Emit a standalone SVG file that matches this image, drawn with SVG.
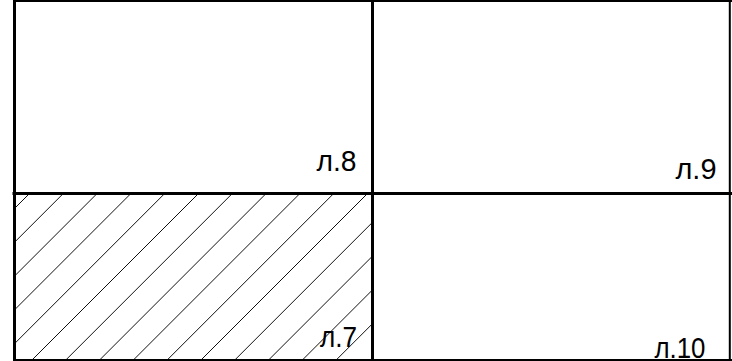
<svg xmlns="http://www.w3.org/2000/svg" width="732" height="361" viewBox="0 0 732 361">
<style>
.b{stroke:#000;fill:none;stroke-linecap:square}
.h{stroke:#111;stroke-width:1;fill:none}
.t{font-family:"Liberation Sans",Arial,sans-serif;font-size:30px;fill:#000;text-anchor:end}
</style>
<defs>
<clipPath id="c7"><rect x="16" y="195" width="355" height="166"/></clipPath>
</defs>
<rect width="732" height="361" fill="#fff"/>
<g id="hatch" clip-path="url(#c7)">
<line class="h" x1="-177" y1="400" x2="33" y2="190"/>
<line class="h" x1="-143.2" y1="400" x2="66.8" y2="190"/>
<line class="h" x1="-109.4" y1="400" x2="100.6" y2="190"/>
<line class="h" x1="-75.6" y1="400" x2="134.4" y2="190"/>
<line class="h" x1="-41.8" y1="400" x2="168.2" y2="190"/>
<line class="h" x1="-8" y1="400" x2="202" y2="190"/>
<line class="h" x1="25.8" y1="400" x2="235.8" y2="190"/>
<line class="h" x1="59.6" y1="400" x2="269.6" y2="190"/>
<line class="h" x1="93.4" y1="400" x2="303.4" y2="190"/>
<line class="h" x1="127.2" y1="400" x2="337.2" y2="190"/>
<line class="h" x1="161" y1="400" x2="371" y2="190"/>
<line class="h" x1="194.8" y1="400" x2="404.8" y2="190"/>
<line class="h" x1="228.6" y1="400" x2="438.6" y2="190"/>
<line class="h" x1="262.4" y1="400" x2="472.4" y2="190"/>
<line class="h" x1="296.2" y1="400" x2="506.2" y2="190"/>
</g>
<g id="connectors">
<line class="b" x1="14.5" y1="0" x2="14.5" y2="361" stroke-width="3"/>
<line class="b" x1="14" y1="1" x2="731" y2="1" stroke-width="2"/>
<line class="b" x1="729.8" y1="0" x2="729.8" y2="361" stroke-width="2"/>
<line class="b" x1="14" y1="360" x2="731" y2="360" stroke-width="2"/>
<line class="b" x1="372.5" y1="0" x2="372.5" y2="361" stroke-width="3"/>
<line class="b" x1="14" y1="193.5" x2="731" y2="193.5" stroke-width="3"/>
</g>
<g id="sheet8"><text class="t" x="356.5" y="171" textLength="40" lengthAdjust="spacingAndGlyphs">л.8</text></g>
<g id="sheet9"><text class="t" x="716.5" y="179" textLength="41" lengthAdjust="spacingAndGlyphs">л.9</text></g>
<g id="sheet7"><text class="t" x="357" y="347" textLength="37" lengthAdjust="spacingAndGlyphs">л.7</text></g>
<g id="sheet10"><text class="t" x="705.5" y="358" textLength="51" lengthAdjust="spacingAndGlyphs">л.10</text></g>
</svg>
